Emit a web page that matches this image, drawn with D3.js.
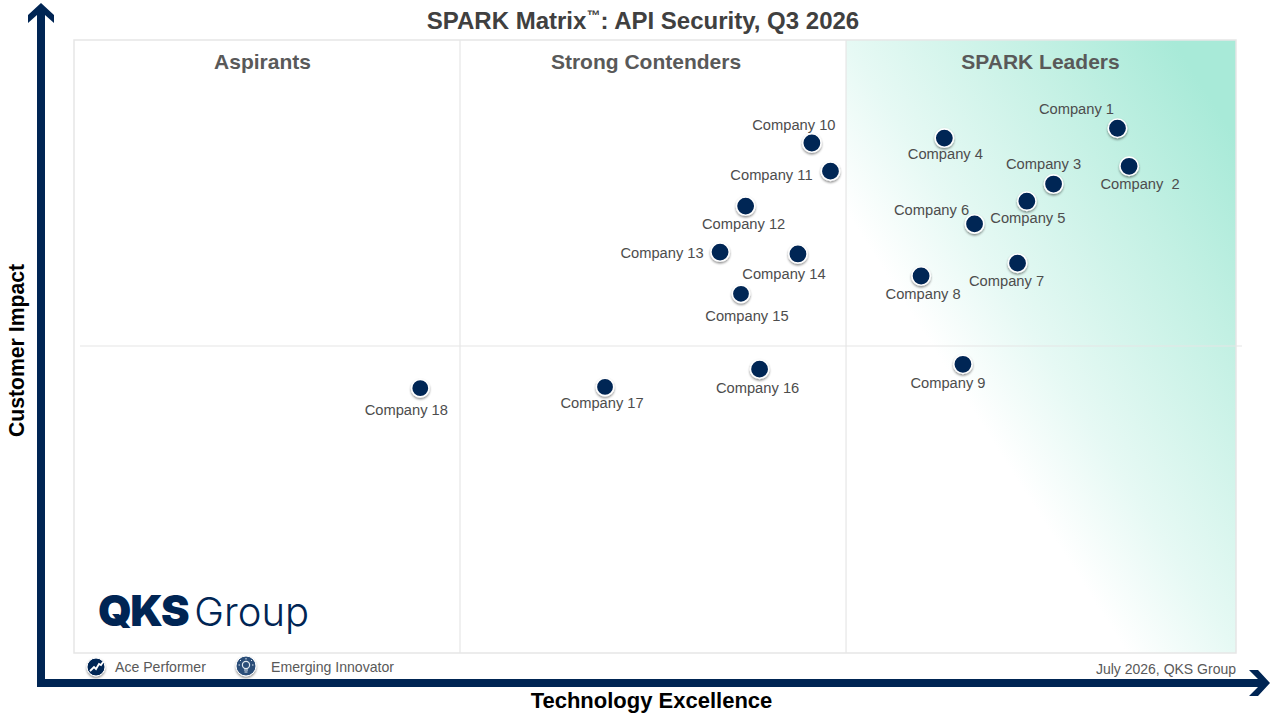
<!DOCTYPE html>
<html><head><meta charset="utf-8">
<script src="https://cdn.jsdelivr.net/npm/d3@7"></script>
<style>html,body{margin:0;padding:0;background:#fff}svg{display:block}text{font-family:"Liberation Sans",Arial,sans-serif}</style>
</head><body><div id="chart"></div>
<script>
const companies=["Company 1","Company  2","Company 3","Company 4","Company 5","Company 6","Company 7","Company 8","Company 9","Company 10","Company 11","Company 12","Company 13","Company 14","Company 15","Company 16","Company 17","Company 18"];
const technologyExcellence=[89.8,90.8,84.3,74.9,82.0,77.5,81.2,72.9,76.5,63.5,65.1,57.8,55.6,62.3,57.4,59.0,45.7,29.8];
const customerImpact=[85.6,79.4,76.5,84.0,73.7,70.0,63.6,61.5,47.1,83.2,78.6,72.9,65.4,65.1,58.6,46.3,43.4,43.2];
const quadrantNames=["Aspirants","Strong Contenders","SPARK Leaders"];
const quadrantBreaks=[33.22,66.44];
const midImpact=50;
const legendItems=["Ace Performer","Emerging Innovator"];

const labelDx=[-41,11,-10,1,1,-43,-11,2,-15,-18,-59,-2,-58,-14,6,-2,-3,-14];
const labelDy=[-19,18,-20,16,17,-14,18,18,19,-18,4,18,1,20,22,19,16,22];
const smallDots=new Set([14,16,17]);
const quadrantLabelX=[262.5,646,1040.5];

const navy="#002554",grey="#595959",line="#e6e6e6";
const svg=d3.select("#chart").append("svg").attr("width",1280).attr("height",720);
const x=d3.scaleLinear().domain([0,100]).range([74,1236]);
const y=d3.scaleLinear().domain([0,100]).range([653,40]);
const defs=svg.append("defs");
const g=defs.append("linearGradient").attr("id","lead").attr("x1",0).attr("y1",1).attr("x2",1).attr("y2",0);
[[0,"#ffffff"],[.36,"#ffffff"],[.5,"#e6f9f4"],[.75,"#c2f0e3"],[.92,"#a8ead8"],[1,"#a8ead8"]].forEach(s=>g.append("stop").attr("offset",s[0]).attr("stop-color",s[1]));
const f=defs.append("filter").attr("id","sh").attr("x","-50%").attr("y","-50%").attr("width","200%").attr("height","200%");
f.append("feDropShadow").attr("dx",0).attr("dy",1.5).attr("stdDeviation",1.2).attr("flood-color","#000").attr("flood-opacity",.45);

svg.append("rect").attr("x",x(quadrantBreaks[1])).attr("y",y(100)).attr("width",x(100)-x(quadrantBreaks[1])).attr("height",y(0)-y(100)).attr("fill","url(#lead)");
svg.append("rect").attr("x",x(0)).attr("y",y(100)).attr("width",x(100)-x(0)).attr("height",y(0)-y(100)).attr("fill","none").attr("stroke",line).attr("stroke-width",1.5);
svg.selectAll(".v").data(quadrantBreaks).join("line").attr("x1",d=>x(d)).attr("x2",d=>x(d)).attr("y1",y(100)).attr("y2",y(0)).attr("stroke",line).attr("stroke-width",1.2);
svg.append("line").attr("x1",80).attr("x2",1242).attr("y1",y(midImpact)-0.5).attr("y2",y(midImpact)-0.5).attr("stroke",line).attr("stroke-width",1.2);

svg.selectAll(".q").data(quadrantNames).join("text").attr("x",(d,i)=>quadrantLabelX[i]).attr("y",69).attr("text-anchor","middle").attr("font-size",21).attr("font-weight",700).attr("fill",grey).text(d=>d);

const t=svg.append("text").attr("x",643).attr("y",29).attr("text-anchor","middle").attr("font-size",24).attr("font-weight",700).attr("fill","#404040");
t.append("tspan").text("SPARK Matrix");
t.append("tspan").attr("font-size",14).attr("dy",-9).text("™");
t.append("tspan").attr("dy",9).text(": API Security, Q3 2026");

svg.append("path").attr("fill",navy).attr("d","M41,3 L54,15 L54,23 L45,15 L45,679 L1258,679 L1249,670 L1258,670 L1270,683 L1258,696 L1249,696 L1258,687 L37,687 L37,15 L28,23 L28,15 Z");

svg.append("text").attr("transform","translate(24,350.5) rotate(-90)").attr("text-anchor","middle").attr("font-size",21.2).attr("font-weight",700).attr("fill","#000").text("Customer Impact");
svg.append("text").attr("x",651.5).attr("y",708).attr("text-anchor","middle").attr("font-size",22).attr("font-weight",700).attr("fill","#000").text("Technology Excellence");

const idx=d3.range(companies.length);
svg.selectAll(".dot").data(idx).join("circle").attr("cx",i=>x(technologyExcellence[i])).attr("cy",i=>y(customerImpact[i])).attr("r",i=>smallDots.has(i)?8.7:9.2).attr("fill",navy).attr("stroke","#fff").attr("stroke-width",1.6).attr("filter","url(#sh)");
svg.selectAll(".lab").data(idx).join("text").attr("x",i=>x(technologyExcellence[i])+labelDx[i]).attr("y",i=>y(customerImpact[i])+labelDy[i]+5).attr("text-anchor","middle").attr("font-size",14.7).attr("fill","#4d4d4d").style("white-space","pre").text(i=>companies[i]);

const lg=svg.append("g").attr("font-size",14.1).attr("fill",grey);
lg.append("text").attr("x",115).attr("y",672).text(legendItems[0]);
lg.append("text").attr("x",271).attr("y",672).text(legendItems[1]);
svg.append("circle").attr("cx",96).attr("cy",667).attr("r",9).attr("fill",navy).attr("stroke","#fff").attr("stroke-width",1).attr("filter","url(#sh)");
svg.append("path").attr("d","M90,671 L94,667 L96,669 L99,664 L101,665 L103,662").attr("fill","none").attr("stroke","#fff").attr("stroke-width",1.8);
svg.append("circle").attr("cx",246).attr("cy",666).attr("r",10).attr("fill","#2a4d78").attr("stroke","#fff").attr("stroke-width",1).attr("filter","url(#sh)");
svg.append("circle").attr("cx",246).attr("cy",665).attr("r",3.6).attr("fill","none").attr("stroke","#dfe8f0").attr("stroke-width",1.2);
svg.append("path").attr("d","M244,670 H248 M244.5,672 H247.5 M246,658 V659.5 M240,660 L241,661 M252,660 L251,661 M238.5,665 H240 M252,665 H253.5").attr("stroke","#dfe8f0").attr("stroke-width",1).attr("fill","none");
svg.append("text").attr("x",1236).attr("y",674).attr("text-anchor","end").attr("font-size",14).attr("fill",grey).text("July 2026, QKS Group");

const logo=svg.append("text").attr("x",98).attr("y",626).attr("fill",navy);
logo.append("tspan").attr("font-family","Inter").attr("font-weight",900).attr("font-size",43).attr("letter-spacing",-1.5).text("QKS");
logo.append("tspan").attr("dx",6).attr("font-family","Inter").attr("font-weight",300).attr("font-size",40).text("Group");
</script></body></html>
